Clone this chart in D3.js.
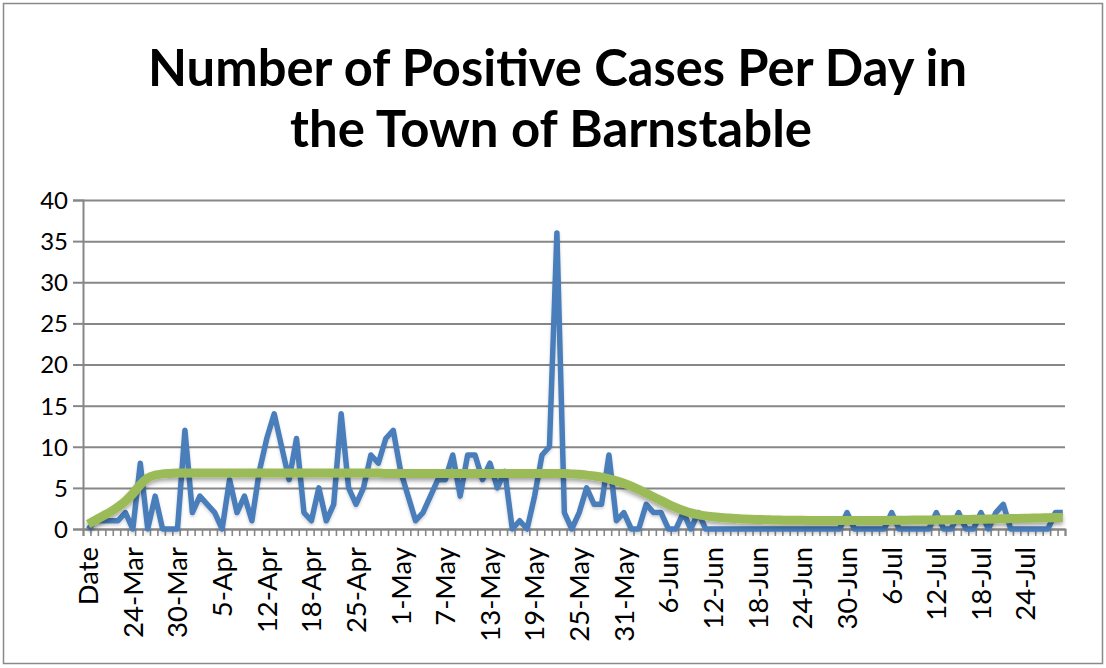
<!DOCTYPE html>
<html><head><meta charset="utf-8">
<script src="https://cdn.jsdelivr.net/npm/d3@7"></script>
<style>html,body{margin:0;padding:0;background:#fff;}</style>
</head><body>
<svg id="chart" width="1106" height="668"></svg>
<script>
const titleLines = ["Number of Positive Cases Per Day in", "the Town of Barnstable"];

const categories = [
  "Date","19-Mar","20-Mar","21-Mar","22-Mar","23-Mar","24-Mar","25-Mar","26-Mar","27-Mar",
  "28-Mar","29-Mar","30-Mar","31-Mar","1-Apr","2-Apr","3-Apr","4-Apr","5-Apr","6-Apr",
  "7-Apr","8-Apr","9-Apr","11-Apr","12-Apr","13-Apr","14-Apr","15-Apr","16-Apr","17-Apr",
  "18-Apr","20-Apr","21-Apr","22-Apr","23-Apr","24-Apr","25-Apr","26-Apr","27-Apr","28-Apr",
  "29-Apr","30-Apr","1-May","2-May","3-May","4-May","5-May","6-May","7-May","8-May",
  "9-May","10-May","11-May","12-May","13-May","14-May","15-May","16-May","17-May","18-May",
  "19-May","20-May","21-May","22-May","23-May","24-May","25-May","26-May","27-May","28-May",
  "29-May","30-May","31-May","1-Jun","2-Jun","3-Jun","4-Jun","5-Jun","6-Jun","7-Jun",
  "8-Jun","9-Jun","10-Jun","11-Jun","12-Jun","13-Jun","14-Jun","15-Jun","16-Jun","17-Jun",
  "18-Jun","19-Jun","20-Jun","21-Jun","22-Jun","23-Jun","24-Jun","25-Jun","26-Jun","27-Jun",
  "28-Jun","29-Jun","30-Jun","1-Jul","2-Jul","3-Jul","4-Jul","5-Jul","6-Jul","7-Jul",
  "8-Jul","9-Jul","10-Jul","11-Jul","12-Jul","13-Jul","14-Jul","15-Jul","16-Jul","17-Jul",
  "18-Jul","19-Jul","20-Jul","21-Jul","22-Jul","23-Jul","24-Jul","25-Jul","26-Jul","27-Jul",
  "28-Jul","29-Jul"
];

const cases = [
  0,1,1,1,1,2,0,8,0,4,
  0,0,0,12,2,4,3,2,0,6,
  2,4,1,7,11,14,10,6,11,2,
  1,5,1,3,14,5,3,5,9,8,
  11,12,7,4,1,2,4,6,6,9,
  4,9,9,6,8,5,7,0,1,0,
  4,9,10,36,2,0,2,5,3,3,
  9,1,2,0,0,3,2,2,0,0,
  2,0,2,0,0,0,0,0,0,0,
  0,0,0,0,0,0,0,0,0,0,
  0,0,2,0,0,0,0,0,2,0,
  0,0,0,0,2,0,0,2,0,0,
  2,0,2,3,0,0,0,0,0,0,
  2,2
];

const trend = [
  0.6,1.1,1.6,2.1,2.7,3.4,4.3,5.4,6.2,6.55,
  6.7,6.75,6.8,6.8,6.8,6.8,6.8,6.8,6.8,6.8,
  6.8,6.8,6.8,6.8,6.8,6.8,6.8,6.8,6.8,6.8,
  6.8,6.8,6.8,6.8,6.8,6.8,6.8,6.8,6.8,6.8,
  6.75,6.75,6.75,6.75,6.75,6.75,6.75,6.75,6.75,6.75,
  6.75,6.75,6.75,6.75,6.75,6.75,6.75,6.75,6.75,6.75,
  6.75,6.75,6.75,6.75,6.75,6.7,6.65,6.55,6.45,6.3,
  6.1,5.85,5.55,5.2,4.8,4.35,3.9,3.45,3.0,2.6,
  2.25,1.95,1.75,1.6,1.5,1.4,1.33,1.27,1.22,1.18,
  1.15,1.13,1.1,1.08,1.07,1.05,1.05,1.04,1.03,1.02,
  1.02,1.02,1.02,1.02,1.02,1.03,1.03,1.04,1.05,1.06,
  1.07,1.08,1.09,1.1,1.11,1.12,1.13,1.15,1.16,1.18,
  1.19,1.21,1.23,1.25,1.27,1.29,1.31,1.33,1.35,1.37,
  1.39,1.41
];

const yTicks = [0,5,10,15,20,25,30,35,40];
const xTickLabels = ["Date","24-Mar","30-Mar","5-Apr","12-Apr","18-Apr","25-Apr","1-May","7-May",
  "13-May","19-May","25-May","31-May","6-Jun","12-Jun","18-Jun","24-Jun","30-Jun","6-Jul",
  "12-Jul","18-Jul","24-Jul"];

const svg = d3.select("#chart");
const W = 1106, H = 668;
const plot = {left: 83, right: 1065, top: 200, bottom: 529};
const FONT = "Lato, 'Open Sans', sans-serif";
const gridColor = "#878787";

// defs: shadows
const defs = svg.append("defs");
const f1 = defs.append("filter").attr("id","shadowG").attr("x","-5%").attr("y","-50%").attr("width","110%").attr("height","200%");
f1.append("feDropShadow").attr("dx",0).attr("dy",3).attr("stdDeviation",2.2)
  .attr("flood-color","#000").attr("flood-opacity",0.35);
const f2 = defs.append("filter").attr("id","shadowB").attr("x","-5%").attr("y","-20%").attr("width","110%").attr("height","140%");
f2.append("feDropShadow").attr("dx",0).attr("dy",2).attr("stdDeviation",1.5)
  .attr("flood-color","#000").attr("flood-opacity",0.18);

// border
svg.append("rect").attr("x",3.5).attr("y",3.5).attr("width",W-7).attr("height",H-8)
  .attr("fill","#fff").attr("stroke","#8a8a8a").attr("stroke-width",1.5);

// title
svg.append("g").selectAll("text").data(titleLines).join("text")
  .attr("x", (d,i)=> i===0 ? 557.5 : 551)
  .attr("y", (d,i)=> 86 + i*61)
  .attr("text-anchor","middle")
  .attr("font-family", FONT).attr("font-weight", 700).attr("font-size", 52)
  .attr("textLength", (d,i)=> i===0 ? 819 : 522)
  .attr("lengthAdjust","spacingAndGlyphs")
  .attr("fill","#000")
  .text(d=>d);

// scales
const x = d3.scaleBand().domain(categories).range([plot.left, plot.right]).paddingInner(0).paddingOuter(0);
const cx = c => x(c) + x.bandwidth()/2 + 1.5;
const y = d3.scaleLinear().domain([0,40]).range([plot.bottom, plot.top]);

// gridlines (y axis with long ticks)
const yAxis = d3.axisLeft(y).tickValues(yTicks).tickSize(-(plot.right - plot.left)).tickFormat("");
const gy = svg.append("g").attr("transform",`translate(${plot.left},0)`).call(yAxis);
gy.select(".domain").remove();
gy.selectAll(".tick line").attr("stroke",gridColor).attr("stroke-width",2);
// outer small ticks
const yAxis2 = d3.axisLeft(y).tickValues(yTicks).tickSize(10).tickPadding(5);
const gy2 = svg.append("g").attr("transform",`translate(${plot.left},0)`).call(yAxis2);
gy2.select(".domain").attr("stroke",gridColor).attr("stroke-width",2);
gy2.selectAll(".tick line").attr("stroke",gridColor).attr("stroke-width",2);
gy2.selectAll(".tick text").attr("font-family",FONT).attr("font-size",24).attr("fill","#000")
  .attr("x",-15).attr("dy","0.35em");

// x axis: tick marks at every category boundary
const boundaries = categories.map(c => x(c)).concat([plot.right]);
const xTickScale = d3.scaleLinear().domain([plot.left, plot.right]).range([plot.left, plot.right]);
const gxt = svg.append("g").attr("transform",`translate(0,${plot.bottom})`)
  .call(d3.axisBottom(xTickScale).tickValues(boundaries).tickSize(7).tickFormat(""));
gxt.select(".domain").attr("stroke",gridColor).attr("stroke-width",2);
gxt.selectAll(".tick line").attr("stroke",gridColor).attr("stroke-width",1.6);

// x labels
const gx = svg.append("g").attr("transform",`translate(1.5,${plot.bottom})`)
  .call(d3.axisBottom(x).tickValues(xTickLabels).tickSize(0));
gx.select(".domain").remove();
gx.selectAll(".tick text")
  .attr("font-family",FONT).attr("font-size",27.5).attr("fill","#000")
  .attr("text-anchor","end")
  .attr("transform","rotate(-90)")
  .attr("x",-18).attr("y",0).attr("dy","0.36em");

// blue line
const line = d3.line().x((d,i)=>cx(categories[i])).y(d=>y(d)).curve(d3.curveLinear);
svg.append("path").datum(cases)
  .attr("d", line)
  .attr("fill","none").attr("stroke","#4a7ebb").attr("stroke-width",5.5)
  .attr("stroke-linejoin","round").attr("filter","url(#shadowB)");

// green trend
const tline = d3.line().x((d,i)=>cx(categories[i])).y(d=>y(d)).curve(d3.curveMonotoneX);
svg.append("path").datum(trend)
  .attr("d", tline)
  .attr("fill","none").attr("stroke","#9bbb59").attr("stroke-width",9)
  .attr("stroke-linejoin","round").attr("filter","url(#shadowG)");
</script>
</body></html>
